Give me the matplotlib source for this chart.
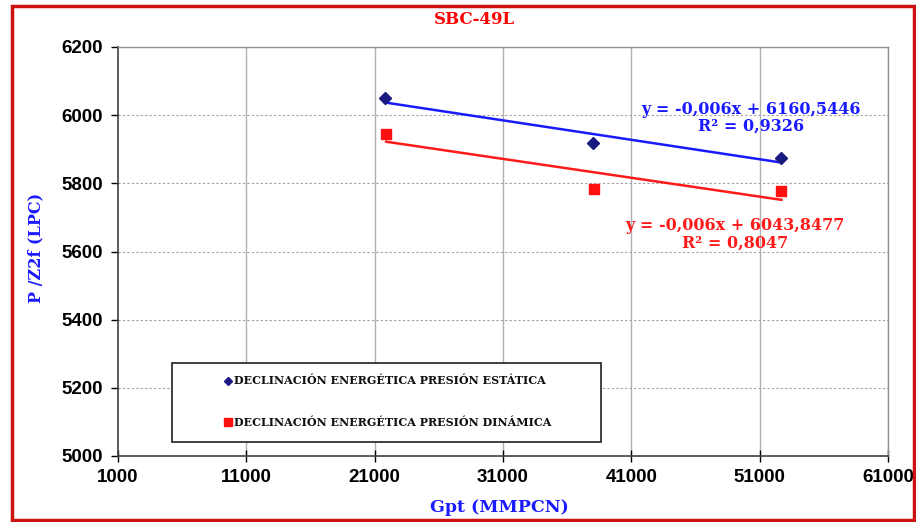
import numpy as np
import matplotlib
matplotlib.use("Agg")
import matplotlib.pyplot as plt
from matplotlib.patches import Rectangle
from matplotlib.lines import Line2D

gpt_est = [21800, 38000, 52700]
pz_est = [6050, 5918, 5875]
gpt_din = [21900, 38100, 52700]
pz_din = [5945, 5784, 5777]

xticks = [1000, 11000, 21000, 31000, 41000, 51000, 61000]
yticks = [5000, 5200, 5400, 5600, 5800, 6000, 6200]

eq_est = "y = -0,006x + 6160,5446\nR² = 0,9326"
eq_din = "y = -0,006x + 6043,8477\nR² = 0,8047"
leg_est = "DECLINACIÓN ENERGÉTICA PRESIÓN ESTÁTICA"
leg_din = "DECLINACIÓN ENERGÉTICA PRESIÓN DINÁMICA"

W, H = 916, 522
fig = plt.figure(figsize=(W / 100, H / 100), dpi=100)
fig.patch.set_facecolor("white")
ax = fig.add_axes([118 / W, 1 - 456 / H, (888 - 118) / W, (456 - 47) / H])

serif = ["DejaVu Serif"]
sans = ["Liberation Sans", "DejaVu Sans"]

ax.set_xlim(1000, 61000)
ax.set_ylim(5000, 6200)
ax.set_xticks(xticks)
ax.set_yticks(yticks)
ax.set_xticklabels([str(v) for v in xticks], fontfamily=sans, fontweight="bold", fontsize=13.5)
ax.set_yticklabels([str(v) for v in yticks], fontfamily=sans, fontweight="bold", fontsize=13.5)
ax.tick_params(axis="x", direction="inout", length=8, width=1, pad=5)
ax.tick_params(axis="y", direction="out", length=5, width=1, pad=6)

for v in xticks[1:]:
    ax.axvline(v, color="#b0b0b0", lw=1, zorder=0)
for v in yticks[1:]:
    ax.axhline(v, color="#a0a0a0", lw=0.8, ls=(0, (2, 2)), zorder=0)

for side in ["top", "right"]:
    ax.spines[side].set_color("#909090")
    ax.spines[side].set_linewidth(1)
for side in ["left", "bottom"]:
    ax.spines[side].set_color("#404040")
    ax.spines[side].set_linewidth(1.2)

# trend lines
for xs, ys, col in [(gpt_est, pz_est, "#1a1aff"), (gpt_din, pz_din, "#ff1a1a")]:
    m, b = np.polyfit(xs, ys, 1)
    xx = np.array([min(xs), max(xs)])
    ax.plot(xx, m * xx + b, color=col, lw=1.8, zorder=2)

ax.plot(gpt_est, pz_est, ls="none", marker="D", ms=6, color="#1a1a80", zorder=3)
ax.plot(gpt_din, pz_din, ls="none", marker="s", ms=7, color="#ff1010", zorder=3)

ax.text(50340, 5993, eq_est, color="#1a1aff", fontfamily=serif, fontweight="bold",
        fontsize=11.5, ha="center", va="center", linespacing=1.0)
ax.text(49090, 5650, eq_din, color="#ff1a1a", fontfamily=serif, fontweight="bold",
        fontsize=11.5, ha="center", va="center", linespacing=1.0)

# legend box
lx0, lx1, ly0, ly1 = 172, 601, 363, 442
fig.patches.append(Rectangle((lx0 / W, 1 - ly1 / H), (lx1 - lx0) / W, (ly1 - ly0) / H,
                             transform=fig.transFigure, facecolor="white",
                             edgecolor="#202020", lw=1.2, zorder=5))
fig.lines.append(Line2D([228 / W], [1 - 381 / H], transform=fig.transFigure, marker="D",
                        ms=4, color="#1a1a80", zorder=6))
fig.lines.append(Line2D([228 / W], [1 - 422 / H], transform=fig.transFigure, marker="s",
                        ms=5.5, color="#ff1010", zorder=6))
fig.text(234 / W, 1 - 381 / H, leg_est, fontfamily=serif, fontweight="bold", fontsize=8,
         ha="left", va="center", color="#111111", zorder=6)
fig.text(234 / W, 1 - 422 / H, leg_din, fontfamily=serif, fontweight="bold", fontsize=8,
         ha="left", va="center", color="#111111", zorder=6)

fig.text(474 / W, 1 - 20 / H, "SBC-49L", color="#ff0000", fontfamily=serif,
         fontweight="bold", fontsize=12, ha="center", va="center")
fig.text(499 / W, 1 - 508 / H, "Gpt (MMPCN)", color="#1a1aff", fontfamily=serif,
         fontweight="bold", fontsize=12.5, ha="center", va="center")
fig.text(36 / W, 1 - 248 / H, "P /Z2f (LPC)", color="#1a1aff", fontfamily=serif,
         fontweight="bold", fontsize=11.5, ha="center", va="center", rotation=90)

# red border around the chart area
fig.patches.append(Rectangle((12 / W, 2 / H), (W - 14) / W, (H - 8) / H,
                             transform=fig.transFigure, facecolor="none",
                             edgecolor="#cc1111", lw=2.5, zorder=10))

fig.savefig("out.png", dpi=100)
